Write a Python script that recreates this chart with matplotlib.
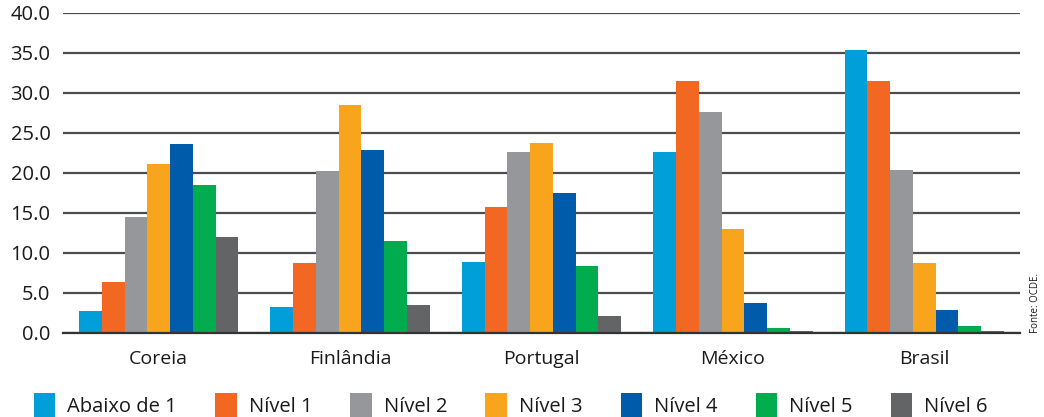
import matplotlib.pyplot as plt
import numpy as np

plt.rcParams['font.family'] = ['Open Sans', 'DejaVu Sans']

countries = ['Coreia', 'Finlândia', 'Portugal', 'México', 'Brasil']
levels = ['Abaixo de 1', 'Nível 1', 'Nível 2', 'Nível 3', 'Nível 4', 'Nível 5', 'Nível 6']

# percentages per level, one list per country order above
abaixo_1 = [2.7, 3.2, 8.9, 22.6, 35.4]
nivel_1 = [6.4, 8.7, 15.7, 31.5, 31.5]
nivel_2 = [14.5, 20.3, 22.6, 27.6, 20.4]
nivel_3 = [21.1, 28.5, 23.7, 13.0, 8.7]
nivel_4 = [23.6, 22.9, 17.5, 3.7, 2.9]
nivel_5 = [18.5, 11.5, 8.4, 0.6, 0.9]
nivel_6 = [12.0, 3.5, 2.1, 0.2, 0.2]
series = [abaixo_1, nivel_1, nivel_2, nivel_3, nivel_4, nivel_5, nivel_6]

colors = ['#009FDA', '#F26722', '#96979B', '#F8A51D', '#005BAA', '#00AC4E', '#636466']

fig = plt.figure(figsize=(10.44, 4.17), dpi=100)
ax = fig.add_axes([63 / 1044, 84 / 417, 957 / 1044, 320 / 417])

x = np.arange(len(countries))
bar_w = 0.119
for i, (vals, col, lab) in enumerate(zip(series, colors, levels)):
    ax.bar(x + (i - 3) * bar_w, vals, bar_w, color=col, label=lab, zorder=3)

ax.set_xlim(-0.5, 4.5)
ax.set_ylim(0, 40)
ax.set_yticks(np.arange(0, 41, 5))
ax.set_yticklabels([f'{v:.1f}' for v in np.arange(0, 41, 5)], fontsize=14.5, color='#1a1a1a')
ax.set_xticks(x)
ax.set_xticklabels(countries, fontsize=14, color='#1a1a1a')
ax.tick_params(axis='both', length=0)
ax.tick_params(axis='y', pad=9)
ax.tick_params(axis='x', pad=12)

ax.grid(True, axis='y', color='#4d4d4d', linewidth=1.6, zorder=1)
for s in ['top', 'right', 'left']:
    ax.spines[s].set_visible(False)
ax.spines['bottom'].set_color('#333333')
ax.spines['bottom'].set_linewidth(1.6)
ax.spines['bottom'].set_zorder(4)

leg = fig.legend(loc='lower left', bbox_to_anchor=(16 / 1044, -0.045), ncol=7, frameon=False,
                 fontsize=14.5, handlelength=1.05, handleheight=1.5, handletextpad=0.6,
                 columnspacing=1.9)
for t in leg.get_texts():
    t.set_color('#1a1a1a')

fig.text(1036 / 1044, 84 / 417, 'Fonte: OCDE.', rotation=90, fontsize=7,
         ha='center', va='bottom', color='#1a1a1a')

fig.savefig('out.png', dpi=100, facecolor='white')
